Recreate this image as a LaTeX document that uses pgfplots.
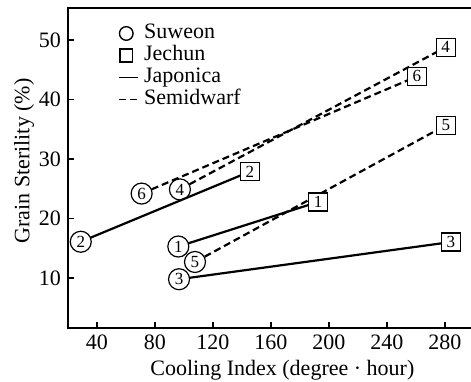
\documentclass[border=0pt]{standalone}
\usepackage{fontspec}
\setmainfont{Liberation Serif}
\usepackage{pgfplots}
\pgfplotsset{compat=1.18}
\usetikzlibrary{calc}
\begin{document}
\begin{tikzpicture}[
  circ/.style={draw, circle, fill=white, solid, line width=0.6pt, inner sep=0pt, minimum size=10.5pt, font=\fontsize{8.5}{9}\selectfont},
  sq/.style={draw, rectangle, fill=white, solid, line width=0.6pt, inner sep=0pt, minimum width=9.5pt, minimum height=9pt, font=\fontsize{8.5}{9}\selectfont},
  dsh/.style={line width=1.1pt, black, dash pattern=on 3.5pt off 2pt},
  sld/.style={line width=1.1pt, black, solid}]
\begin{axis}[name=ax, scale only axis, width=201.5pt, height=160pt,
  xmin=20, xmax=298, ymin=1.6, ymax=55.4,
  xtick={40,80,...,280}, ytick={10,20,...,50},
  xtick pos=left, ytick pos=left, tick align=inside, major tick length=3pt,
  tick style={line width=0.8pt, black},
  axis line style={draw=none},
  font=\fontsize{11}{13}\selectfont,
  /pgf/number format/assume math mode=true,
  xlabel={Cooling Index (degree · hour)},
  ylabel={Grain Sterility (\%)},
  every axis x label/.style={at={(rel axis cs:0.532,0)}, yshift=-21pt, anchor=center},
  every axis y label/.style={at={(rel axis cs:0,0.522)}, xshift=-22pt, rotate=90, anchor=center},
  legend style={at={(rel axis cs:0.124,0.956)}, anchor=north west, draw=none, fill=none, inner sep=0pt, row sep=0pt, column sep=2pt, font=\fontsize{11}{13}\selectfont, nodes={inner sep=0.5pt, text height=7.5pt, text depth=2.5pt, anchor=west}},
  legend cell align=left,
  clip=false,
]
\addlegendimage{legend image code/.code={\draw[line width=0.7pt, solid] (3.5pt,0pt) circle (3.4pt); \path (0pt,0pt) (9.5pt,0pt);}}
\addlegendimage{legend image code/.code={\draw[line width=0.7pt, solid] (0.3pt,-3.2pt) rectangle (6.7pt,3.2pt); \path (0pt,0pt) (9.5pt,0pt);}}
\addlegendimage{legend image code/.code={\draw[line width=0.9pt] (0pt,0pt) -- (9.5pt,0pt);}}
\addlegendimage{legend image code/.code={\draw[line width=0.9pt, dash pattern=on 3.5pt off 2pt] (0pt,0pt) -- (9.5pt,0pt);}}
\legend{Suweon,Jechun,Japonica,Semidwarf}
% Semidwarf (dashed)
\addplot[dsh] coordinates {(70.8,24.2) (260.7,43.9)} node[circ,pos=0]{6} node[sq,pos=1]{6};
\addplot[dsh] coordinates {(107.6,12.7) (280.7,35.7)} node[circ,pos=0]{5} node[sq,pos=1]{5};
\addplot[dsh] coordinates {(97.2,24.9) (280.5,48.8)} node[circ,pos=0]{4} node[sq,pos=1]{4};
% Japonica (solid)
\addplot[sld] coordinates {(28.8,16.1) (145.5,27.9)} node[circ,pos=0]{2} node[sq,pos=1]{2};
\addplot[sld] coordinates {(96.1,15.3) (192.6,22.8)} node[circ,pos=0]{1} node[sq,pos=1]{1};
\addplot[sld] coordinates {(96.6,9.8) (284.1,16.05)} node[circ,pos=0]{3} node[sq,pos=1]{3};
\end{axis}
\draw[line width=1pt] (ax.north east) -- (ax.north west) -- (ax.south west) -- (ax.south east);
\pgfresetboundingbox
\path[use as bounding box] ($(ax.south west)+(-34pt,-26.5pt)$) rectangle ($(ax.north east)+(0pt,4pt)$);
\end{tikzpicture}
\end{document}
